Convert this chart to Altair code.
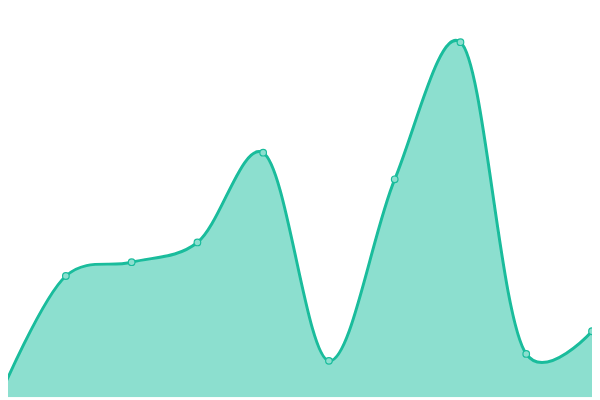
import altair as alt
import pandas as pd

idx = [0, 1, 2, 3, 4, 5, 6, 7, 8, 9]
values = [2, 123, 137, 157, 248, 37, 221, 360, 44, 67]

LINE = "#1abc9c"
FILL = "#8cdfcf"

df = pd.DataFrame({"i": idx, "v": values})

x = alt.X("i:Q", axis=None, scale=alt.Scale(domain=[0.12, 9], nice=False, zero=False))
y = alt.Y("v:Q", axis=None, scale=alt.Scale(domain=[0, 392], nice=False))

base = alt.Chart(df)

area = base.mark_area(interpolate="catmull-rom", tension=0.2, color=FILL, opacity=1, clip=True).encode(x=x, y=y)
line = base.mark_line(interpolate="catmull-rom", tension=0.2, color=LINE, strokeWidth=3, clip=True).encode(x=x, y=y)
pts = base.mark_point(filled=True, shape="circle", size=45, fill=FILL, stroke=LINE,
                      strokeWidth=1.2, opacity=1, clip=True).encode(x=x, y=y)

chart = alt.layer(area, line, pts).properties(
    width=592, height=392, padding=0
).configure_view(stroke=None)

chart.save("out.html", embed_options={"renderer": "svg", "actions": False})
